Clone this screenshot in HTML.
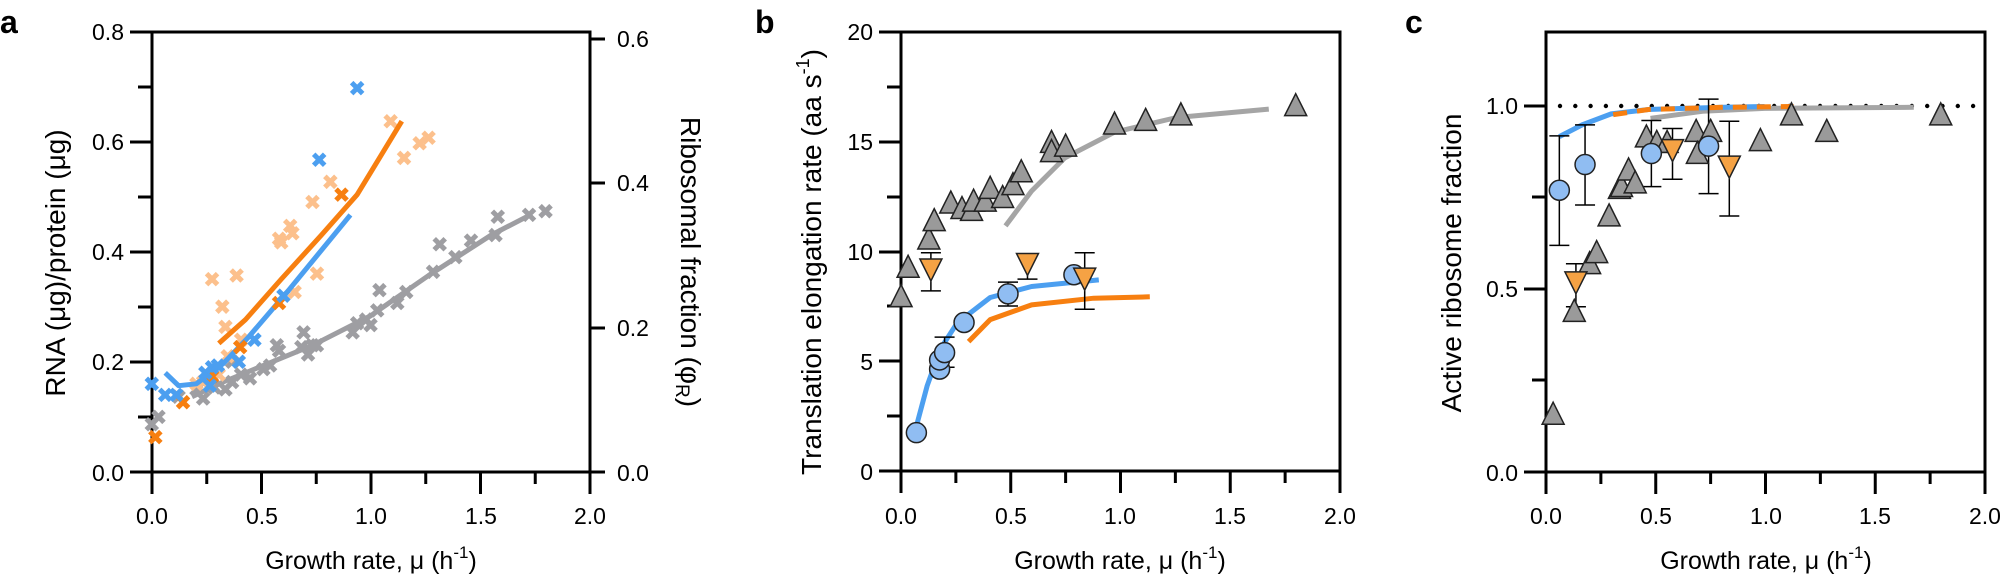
<!DOCTYPE html>
<html><head><meta charset="utf-8"><style>
html,body{margin:0;padding:0;background:#fff}
svg{display:block;font-family:"Liberation Sans",Arial,sans-serif}
.t{font-size:23px;fill:#000}
.ti{font-size:25px;fill:#000}
.ty{font-size:28px;fill:#000}
.pl{font-size:32px;font-weight:bold;fill:#000}
</style></head><body>
<svg id="s" width="2000" height="576" viewBox="0 0 2000 576" xmlns="http://www.w3.org/2000/svg">
<g id="g"></g>
<text class="pl" x="0" y="33">a</text>
<text class="pl" x="755" y="33">b</text>
<text class="pl" x="1405" y="33">c</text>
<g class="t" text-anchor="end">
<text x="124" y="40">0.8</text><text x="124" y="150">0.6</text><text x="124" y="260">0.4</text><text x="124" y="370">0.2</text><text x="124" y="481">0.0</text>
</g>
<g class="t" text-anchor="start">
<text x="617" y="47">0.6</text><text x="617" y="191">0.4</text><text x="617" y="336">0.2</text><text x="617" y="481">0.0</text>
</g>
<g class="t" text-anchor="middle">
<text x="152" y="524">0.0</text><text x="262" y="524">0.5</text><text x="371" y="524">1.0</text><text x="481" y="524">1.5</text><text x="590" y="524">2.0</text>
</g>
<text class="ty" text-anchor="middle" transform="translate(65,263) rotate(-90)">RNA (μg)/protein (μg)</text>
<text class="ty" text-anchor="middle" transform="translate(681,262) rotate(90)">Ribosomal fraction (φ<tspan font-size="19" dy="5">R</tspan><tspan dy="-5">)</tspan></text>
<text class="ti" text-anchor="middle" x="371" y="569">Growth rate, μ (h<tspan font-size="17" dy="-11">-1</tspan><tspan dy="11">)</tspan></text>
<g class="t" text-anchor="end">
<text x="873" y="40">20</text><text x="873" y="150">15</text><text x="873" y="260">10</text><text x="873" y="370">5</text><text x="873" y="480">0</text>
</g>
<g class="t" text-anchor="middle">
<text x="901" y="524">0.0</text><text x="1011" y="524">0.5</text><text x="1120" y="524">1.0</text><text x="1230" y="524">1.5</text><text x="1340" y="524">2.0</text>
</g>
<text class="ty" text-anchor="middle" transform="translate(821,262) rotate(-90)">Translation elongation rate (aa s<tspan font-size="18" dy="-12">-1</tspan><tspan dy="12">)</tspan></text>
<text class="ti" text-anchor="middle" x="1120" y="569">Growth rate, μ (h<tspan font-size="17" dy="-11">-1</tspan><tspan dy="11">)</tspan></text>
<g class="t" text-anchor="end">
<text x="1518" y="114">1.0</text><text x="1518" y="297">0.5</text><text x="1518" y="481">0.0</text>
</g>
<g class="t" text-anchor="middle">
<text x="1546" y="524">0.0</text><text x="1656" y="524">0.5</text><text x="1766" y="524">1.0</text><text x="1875" y="524">1.5</text><text x="1985" y="524">2.0</text>
</g>
<text class="ty" text-anchor="middle" transform="translate(1461,263) rotate(-90)">Active ribosome fraction</text>
<text class="ti" text-anchor="middle" x="1766" y="569">Growth rate, μ (h<tspan font-size="17" dy="-11">-1</tspan><tspan dy="11">)</tspan></text>
</svg>
<script>
(function(){
var g=document.getElementById('g'),h='';
var GRAY='#9e9ea2',LOR='#fcc08c',OR='#f77f10',BL='#4c9ff0',CF='#90bdf2',TF='#f5a244',GF='#9a9a9a';
function A(s){h+=s;}
function line(x1,y1,x2,y2,w){A('<line x1="'+x1+'" y1="'+y1+'" x2="'+x2+'" y2="'+y2+'" stroke="#000" stroke-width="'+(w||3)+'"/>');}
function axes(L,R,T,B,opts){
  A('<rect x="'+L+'" y="'+T+'" width="'+(R-L)+'" height="'+(B-T)+'" fill="none" stroke="#000" stroke-width="3"/>');
  for(var i=0;i<=8;i++){var x=L+(R-L)*i/8;line(x,B,x,B+(i%2?12:22));}
  opts.y.forEach(function(t){line(L-t[1],t[0],L,t[0]);});
  if(opts.r)opts.r.forEach(function(t){line(R,t[0],R+t[1],t[0]);});
}
axes(152,590,32,472,{y:[[32,22],[87,14],[142,22],[197,14],[252,22],[307,14],[362,22],[417,14],[472,22]],r:[[39,15],[111,0],[183,15],[256,0],[328,15],[400,0],[472,15]]});
axes(901,1340,32,471,{y:[[32,22],[87,14],[142,22],[197,14],[252,22],[306,14],[361,22],[416,14],[471,22]]});
axes(1546,1985,32,472,{y:[[106,22],[197,14],[289,22],[380,14],[472,22]]});
function conv(ox,fx,p){return p.map(function(q){return [ox+q[0]*fx,q[1]*0.3673];});}
function poly(pts,c,w,extra){A('<polyline points="'+pts.map(function(p){return p[0].toFixed(1)+','+p[1].toFixed(1);}).join(' ')+'" fill="none" stroke="'+c+'" stroke-width="'+w+'" stroke-linejoin="round" '+(extra||'')+'/>');}
function cross(p,c){var x=p[0],y=p[1],s=5.5;A('<path d="M'+(x-s)+','+(y-s)+'L'+(x+s)+','+(y+s)+'M'+(x-s)+','+(y+s)+'L'+(x+s)+','+(y-s)+'" stroke="'+c+'" stroke-width="5"/>');}
function tri(p,up,f){var x=p[0],y=p[1],w=11,hh=11;var d=up?('M'+x+','+(y-hh)+'L'+(x+w)+','+(y+hh)+'L'+(x-w)+','+(y+hh)+'Z'):('M'+x+','+(y+hh)+'L'+(x+w)+','+(y-hh)+'L'+(x-w)+','+(y-hh)+'Z');A('<path d="'+d+'" fill="'+f+'" stroke="#222" stroke-width="1.5"/>');}
function circ(p){A('<circle cx="'+p[0]+'" cy="'+p[1]+'" r="10" fill="'+CF+'" stroke="#222" stroke-width="1.5"/>');}
function err(x,y1,y2){line(x,y1,x,y2,1.5);line(x-10,y1,x+10,y1,1.5);line(x-10,y2,x+10,y2,1.5);}
var fa=700/1568, fb=650/1568;
conv(0,fa,[[340,1155],[355,1135],[400,1080],[440,1060],[455,1085],[480,1055],[505,1060],[520,1040],[520,985],[540,1020],[560,1030],[590,1005],[605,995],[620,940],[625,955],[675,945],[680,905],[690,965],[700,940],[710,940],[790,905],[800,880],[820,870],[830,885],[845,845],[850,790],[890,825],[910,795],[970,740],[985,665],[1020,700],[1055,655],[1110,640],[1115,590],[1185,585],[1222,575]]).forEach(function(p){cross(p,GRAY);});
poly(conv(0,fa,[[430,1080],[500,1040],[580,1000],[700,940],[830,860],[960,750],[1100,640],[1180,590]]),GRAY,5);
conv(0,fa,[[440,1045],[455,1040],[470,1030],[490,1020],[475,760],[498,835],[505,890],[510,970],[530,750],[540,925],[625,650],[630,660],[650,615],[655,635],[660,795],[700,550],[710,745],[740,495],[875,330],[905,430],[940,390],[960,375]]).forEach(function(p){cross(p,LOR);});
poly(conv(0,fa,[[370,1015],[400,1050],[440,1045],[500,990],[555,920],[640,800],[785,585]]),BL,5);
poly(conv(0,fa,[[490,935],[550,870],[630,760],[720,640],[800,530],[900,330]]),OR,5);
conv(0,fa,[[348,1190],[410,1095],[475,1025],[538,945],[625,825],[765,530]]).forEach(function(p){cross(p,OR);});
conv(0,fa,[[340,1045],[370,1075],[395,1075],[460,1015],[475,1000],[488,995],[470,1050],[535,985],[570,925],[635,805],[715,435],[800,240]]).forEach(function(p){cross(p,BL);});
poly(conv(700,fb,[[737,615],[800,520],[880,430],[1000,360],[1150,320],[1372,297]]),'#a5a5a5',5);
conv(700,fb,[[485,805],[502,725],[552,648],[565,598],[605,550],[632,565],[655,570],[660,545],[688,545],[700,510],[730,535],[755,500],[775,465],[848,385],[848,410],[882,395],[1000,335],[1075,325],[1160,310],[1437,285]]).forEach(function(p){tri(p,true,GF);});
poly(conv(700,fb,[[522,1160],[548,1050],[580,950],[620,880],[700,810],[800,780],[962,762]]),BL,5);
poly(conv(700,fb,[[648,930],[700,870],[800,830],[950,812],[1085,808]]),OR,5);
var e=conv(700,fb,[[590,918],[590,1000],[743,768],[743,833],[557,688],[557,792],[790,695],[790,760],[928,688],[928,842]]);
for(var i=0;i<e.length;i+=2)err(e[i][0],e[i][1],e[i+1][1]);
conv(700,fb,[[522,1178],[578,1005],[578,980],[590,960],[637,878],[743,800],[902,748]]).forEach(circ);
conv(700,fb,[[557,735],[790,720],[928,760]]).forEach(function(p){tri(p,false,TF);});
for(var x=1560;x<=1985;x+=15.3)A('<circle cx="'+x.toFixed(1)+'" cy="106" r="2.2" fill="#000"/>');
poly(conv(1350,fb,[[725,322],[850,303],[1000,295],[1360,292]]),'#a5a5a5',5);
poly(conv(1350,fb,[[505,372],[560,340],[630,310],[720,298],[900,292],[1000,290]]),BL,5);
poly(conv(1350,fb,[[635,312],[720,298],[900,292],[1070,290]]),OR,5,'stroke-dasharray="14,10"');
var e2=conv(1350,fb,[[505,370],[505,668],[567,340],[567,558],[727,328],[727,508],[865,270],[865,527],[545,718],[545,835],[778,350],[778,488],[915,330],[915,588]]);
for(var i=0;i<e2.length;i+=2)err(e2[i][0],e2[i][1],e2[i+1][1]);
conv(1350,fb,[[490,1125],[541,845],[578,715],[595,685],[625,585],[650,510],[655,505],[672,460],[688,495],[715,370],[740,385],[765,385],[835,355],[838,415],[870,355],[990,380],[1065,310],[1150,355],[1425,310]]).forEach(function(p){tri(p,true,GF);});
conv(1350,fb,[[505,518],[567,448],[727,418],[865,398]]).forEach(circ);
conv(1350,fb,[[545,770],[778,410],[915,455]]).forEach(function(p){tri(p,false,TF);});
g.innerHTML=h;
})();
</script>
</body></html>
